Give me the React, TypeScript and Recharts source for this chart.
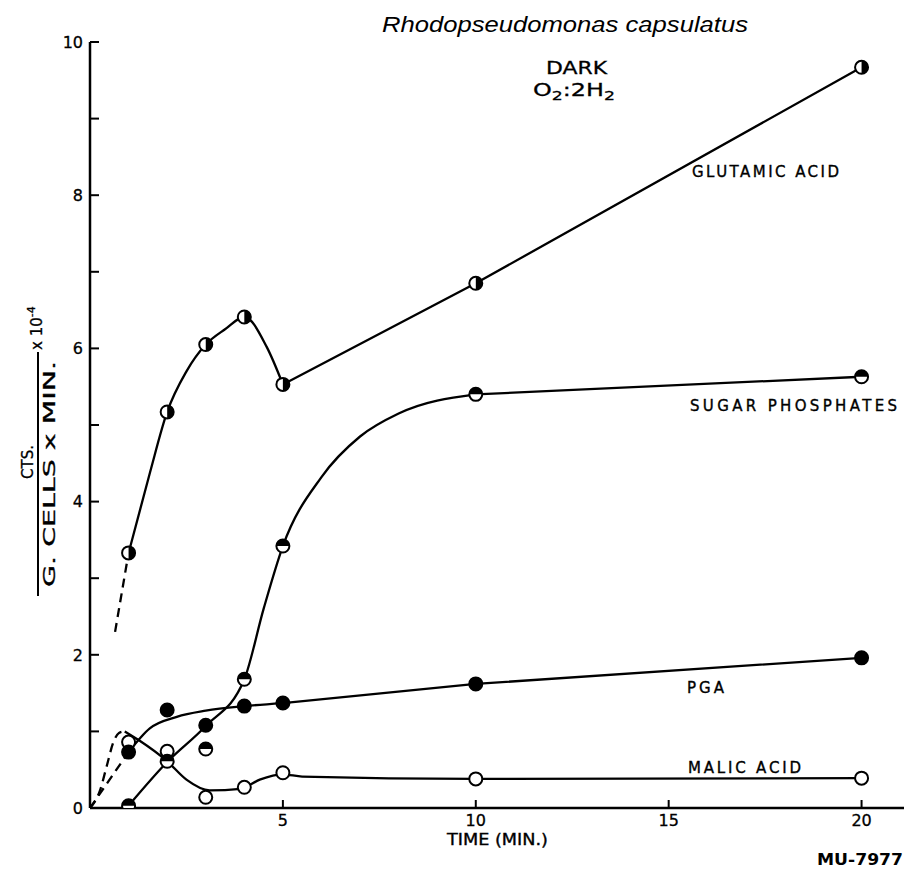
import React from 'react';
import { ComposedChart, Line, Scatter, XAxis, YAxis } from 'recharts';

// measured points (time in min, value in CTS/(g cells x min) x 10^-4)
const times = [1, 2, 3, 4, 5, 10, 20];
const glutamicAcid = [3.33, 5.17, 6.05, 6.41, 5.53, 6.85, 9.67];
const sugarPhosphates = [0.03, 0.61, 0.77, 1.68, 3.42, 5.4, 5.63];
const pga = [0.73, 1.28, 1.08, 1.33, 1.37, 1.62, 1.96];
const malicAcid = [0.86, 0.74, 0.14, 0.27, 0.46, 0.38, 0.39];

// hand-drawn fitted curves
const glutamicCurveT = [1, 1.55, 2, 2.5, 3, 3.5, 4, 4.58, 5];
const glutamicCurveV = [3.33, 4.37, 5.17, 5.7, 6.05, 6.25, 6.41, 6.02, 5.53];
const glutamicLineT = [5, 10, 20];
const glutamicLineV = [5.53, 6.85, 9.67];
const glutamicDashT = [0.65, 1];
const glutamicDashV = [2.3, 3.33];

const sugarCurveT = [1, 2, 3, 4, 4.5, 5, 6, 7, 8, 10];
const sugarCurveV = [0.03, 0.6, 1.07, 1.68, 2.6, 3.42, 4.32, 4.85, 5.15, 5.4];
const sugarLineT = [10, 20];
const sugarLineV = [5.4, 5.63];

const pgaCurveT = [1, 1.55, 2.25, 3, 4, 5];
const pgaCurveV = [0.73, 1.04, 1.19, 1.27, 1.33, 1.37];
const pgaLineT = [5, 10, 20];
const pgaLineV = [1.37, 1.62, 1.96];
const pgaDashT = [0, 1];
const pgaDashV = [0, 0.73];

const malicDashT = [0, 0.26, 0.43, 0.6, 0.75, 0.9];
const malicDashV = [0, 0.23, 0.54, 0.85, 0.98, 1.0];
const malicCurveT = [0.9, 1.25, 2, 2.5, 3.1, 3.9, 4.4, 5, 5.5, 10, 20];
const malicCurveV = [1.0, 0.89, 0.61, 0.37, 0.23, 0.25, 0.37, 0.44, 0.41, 0.38, 0.39];

const xTicks = [5, 10, 15, 20];
const yTicks = [0, 1, 2, 3, 4, 5, 6, 7, 8, 9, 10];

const zip = (t: number[], v: number[]) => t.map((x, i) => ({ x, y: v[i] }));

const FONT = '"DejaVu Sans", "Liberation Sans", sans-serif';
const TITLE_FONT = '"Liberation Sans", Arial, sans-serif';
const INK = '#000';
const R = 6.5;

const OpenDot = (p: any) => (
  <circle cx={p.cx} cy={p.cy} r={R} fill="#fff" stroke={INK} strokeWidth={2} />
);
const FullDot = (p: any) => (
  <circle cx={p.cx} cy={p.cy} r={R} fill={INK} stroke={INK} strokeWidth={2} />
);
const RightHalfDot = (p: any) => (
  <g>
    <circle cx={p.cx} cy={p.cy} r={R} fill="#fff" stroke={INK} strokeWidth={2} />
    <path d={`M${p.cx},${p.cy - R} A${R},${R} 0 0 1 ${p.cx},${p.cy + R} Z`} fill={INK} />
  </g>
);
const TopHalfDot = (p: any) => (
  <g>
    <circle cx={p.cx} cy={p.cy} r={R} fill="#fff" stroke={INK} strokeWidth={2} />
    <path d={`M${p.cx - R},${p.cy} A${R},${R} 0 0 1 ${p.cx + R},${p.cy} Z`} fill={INK} />
  </g>
);

const YTick = (props: any) => {
  const { x, y, payload } = props;
  const v = payload.value;
  return (
    <g>
      <line x1={x} x2={x + 9} y1={y} y2={y} stroke={INK} strokeWidth={2} />
      {v % 2 === 0 ? (
        <text x={x - 7} y={y} dy="0.36em" textAnchor="end" fontSize={16} fontFamily={FONT} fill={INK} stroke={INK} strokeWidth={0.3}>
          {v}
        </text>
      ) : null}
    </g>
  );
};

const XTick = (props: any) => {
  const { x, y, payload } = props;
  return (
    <g>
      <line x1={x} x2={x} y1={y} y2={y - 8} stroke={INK} strokeWidth={2} />
      <text x={x} y={y + 12} dy="0.36em" textAnchor="middle" fontSize={16} fontFamily={FONT} fill={INK} stroke={INK} strokeWidth={0.3}>
        {payload.value}
      </text>
    </g>
  );
};

const lineProps = {
  stroke: INK,
  strokeWidth: 2.3,
  dot: false,
  activeDot: false,
  isAnimationActive: false,
  dataKey: 'y',
} as const;

export default function App() {
  return (
    <div style={{ position: 'absolute', left: 0, top: 0, width: 907, height: 871, background: '#fff' }}>
      <ComposedChart width={907} height={871} margin={{ top: 42, right: 3, bottom: 0, left: 0 }}>
        <XAxis
          dataKey="x"
          type="number"
          domain={[0, 21.1]}
          ticks={xTicks}
          tick={<XTick />}
          tickSize={0}
          tickMargin={0}
          tickLine={false}
          axisLine={{ stroke: INK, strokeWidth: 2.5 }}
          height={63}
          allowDataOverflow
        />
        <YAxis
          dataKey="y"
          type="number"
          domain={[0, 10]}
          ticks={yTicks}
          tick={<YTick />}
          tickSize={0}
          tickMargin={0}
          tickLine={false}
          axisLine={{ stroke: INK, strokeWidth: 2.5 }}
          width={90}
          interval={0}
          allowDataOverflow
        />
        <Line {...lineProps} data={zip(glutamicDashT, glutamicDashV)} type="linear" strokeDasharray="9 6" />
        <Line {...lineProps} data={zip(glutamicCurveT, glutamicCurveV)} type="monotone" />
        <Line {...lineProps} data={zip(glutamicLineT, glutamicLineV)} type="linear" />
        <Line {...lineProps} data={zip(sugarCurveT, sugarCurveV)} type="monotone" />
        <Line {...lineProps} data={zip(sugarLineT, sugarLineV)} type="linear" />
        <Line {...lineProps} data={zip(pgaDashT, pgaDashV)} type="linear" strokeDasharray="9 6" />
        <Line {...lineProps} data={zip(pgaCurveT, pgaCurveV)} type="monotone" />
        <Line {...lineProps} data={zip(pgaLineT, pgaLineV)} type="linear" />
        <Line {...lineProps} data={zip(malicDashT, malicDashV)} type="monotone" strokeDasharray="9 6" />
        <Line {...lineProps} data={zip(malicCurveT, malicCurveV)} type="monotone" />
        <Scatter data={zip(times, malicAcid)} shape={<OpenDot />} isAnimationActive={false} />
        <Scatter data={zip(times, pga)} shape={<FullDot />} isAnimationActive={false} />
        <Scatter data={zip(times, sugarPhosphates)} shape={<TopHalfDot />} isAnimationActive={false} />
        <Scatter data={zip(times, glutamicAcid)} shape={<RightHalfDot />} isAnimationActive={false} />
      </ComposedChart>
      <svg
        width={907}
        height={871}
        style={{ position: 'absolute', left: 0, top: 0, pointerEvents: 'none' }}
        fontFamily={FONT}
        fill={INK}
      >
        <text x={382} y={32} fontSize={22} fontFamily={TITLE_FONT} fontStyle="italic" textLength={366} lengthAdjust="spacingAndGlyphs">
          Rhodopseudomonas capsulatus
        </text>
        <text x={546} y={74} fontSize={17} textLength={61} lengthAdjust="spacingAndGlyphs" stroke={INK} strokeWidth={0.3}>DARK</text>
        <text x={533} y={96} fontSize={18} textLength={82} lengthAdjust="spacingAndGlyphs" stroke={INK} strokeWidth={0.3}>
          O<tspan fontSize={13} dy={4}>2</tspan>
          <tspan dy={-4}>:2H</tspan>
          <tspan fontSize={13} dy={4}>2</tspan>
        </text>
        <g stroke={INK} strokeWidth={0.35}>
          <text x={692} y={177} fontSize={15} textLength={147} lengthAdjust="spacing">GLUTAMIC ACID</text>
          <text x={690} y={411} fontSize={15} textLength={207} lengthAdjust="spacing">SUGAR PHOSPHATES</text>
          <text x={687} y={693} fontSize={15} textLength={37} lengthAdjust="spacing">PGA</text>
          <text x={688} y={773} fontSize={15} textLength={113} lengthAdjust="spacing">MALIC ACID</text>
          <text x={447} y={845} fontSize={15} textLength={101} lengthAdjust="spacingAndGlyphs">TIME (MIN.)</text>
        </g>
        <text x={817} y={865} fontSize={16} fontWeight="bold" textLength={86} lengthAdjust="spacingAndGlyphs">MU-7977</text>
        {/* y-axis title */}
        <g transform="rotate(-90)" stroke={INK} strokeWidth={0.3}>
          <text x={-462} y={33} fontSize={15} textAnchor="middle">CTS.</text>
          <line x1={-596} x2={-352} y1={38} y2={38} stroke={INK} strokeWidth={2} />
          <text x={-474} y={55} fontSize={16} textAnchor="middle" textLength={226} lengthAdjust="spacingAndGlyphs">
            G. CELLS x MIN.
          </text>
          <text x={-350} y={42} fontSize={15}>
            x 10<tspan fontSize={11} dy={-7}>-4</tspan>
          </text>
        </g>
      </svg>
    </div>
  );
}
